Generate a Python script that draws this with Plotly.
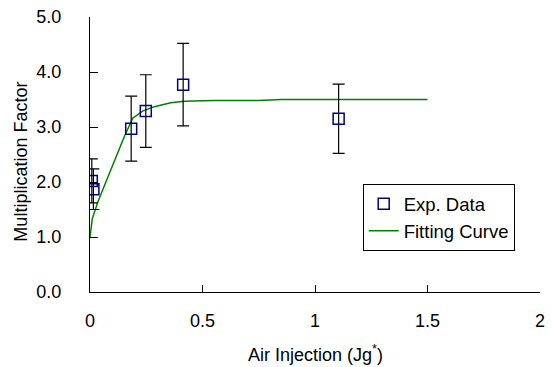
import plotly.graph_objects as go

# Experimental data
exp_x = [0.008, 0.015, 0.183, 0.248, 0.414, 1.105]
exp_y = [2.02, 1.87, 2.97, 3.29, 3.77, 3.15]
exp_err = [0.40, 0.37, 0.59, 0.66, 0.75, 0.63]

# Fitting curve
fit_x = [0.0, 0.01, 0.036, 0.066, 0.095, 0.124, 0.154, 0.19, 0.234, 0.286, 0.359, 0.418, 0.55, 0.75, 0.85, 1.0, 1.5]
fit_y = [1.0, 1.33, 1.65, 1.95, 2.24, 2.54, 2.84, 3.16, 3.29, 3.37, 3.44, 3.47, 3.48, 3.48, 3.50, 3.50, 3.50]

x_ticks = [0, 0.5, 1, 1.5, 2]
x_ticktext = ["0", "0.5", "1", "1.5", "2"]
y_ticks = [0, 1, 2, 3, 4, 5]
y_ticktext = ["0.0", "1.0", "2.0", "3.0", "4.0", "5.0"]

FONT = "Liberation Sans, Arial, sans-serif"

fig = go.Figure()
fig.add_trace(go.Scatter(
    x=fit_x, y=fit_y, mode="lines", name="Fitting Curve",
    line=dict(color="#008000", width=1.5),
))
fig.add_trace(go.Scatter(
    x=exp_x, y=exp_y, mode="markers", name="Exp. Data",
    marker=dict(symbol="square-open", size=11, color="#000080", line=dict(width=1.5)),
    error_y=dict(type="data", array=exp_err, visible=True, color="black", thickness=1.2, width=6),
))

fig.update_layout(
    width=552, height=367,
    margin=dict(l=90, r=7, t=13, b=75),
    paper_bgcolor="white", plot_bgcolor="white",
    font=dict(family=FONT, size=18, color="black"),
    showlegend=True,
    legend=dict(
        x=0.606, y=0.392, xanchor="left", yanchor="top",
        bgcolor="white", bordercolor="black", borderwidth=1,
        font=dict(size=18.5), traceorder="reversed",
        tracegroupgap=0, itemwidth=30,
    ),
    xaxis=dict(
        range=[0, 2], tickvals=x_ticks, ticktext=x_ticktext,
        showline=True, linecolor="black", linewidth=1,
        ticks="inside", ticklen=7, tickcolor="black",
        showgrid=False, zeroline=False, ticklabelstandoff=12,
    ),
    yaxis=dict(
        range=[0, 5], tickvals=y_ticks, ticktext=y_ticktext,
        showline=True, linecolor="black", linewidth=1,
        ticks="inside", ticklen=8, tickcolor="black",
        showgrid=False, zeroline=False, ticklabelstandoff=24,
    ),
    annotations=[
        dict(text="Air Injection (Jg<sup>*</sup>)", xref="paper", yref="paper",
             x=0.502, y=-0.224, xanchor="center", yanchor="middle", showarrow=False,
             font=dict(size=18)),
        dict(text="Multiplication Factor", xref="paper", yref="paper",
             x=-0.154, y=0.473, xanchor="center", yanchor="middle", showarrow=False,
             textangle=-90, font=dict(size=18)),
    ],
)

fig.write_html("out.html", config={"displayModeBar": False},
               post_script="document.body.style.margin='0';")
